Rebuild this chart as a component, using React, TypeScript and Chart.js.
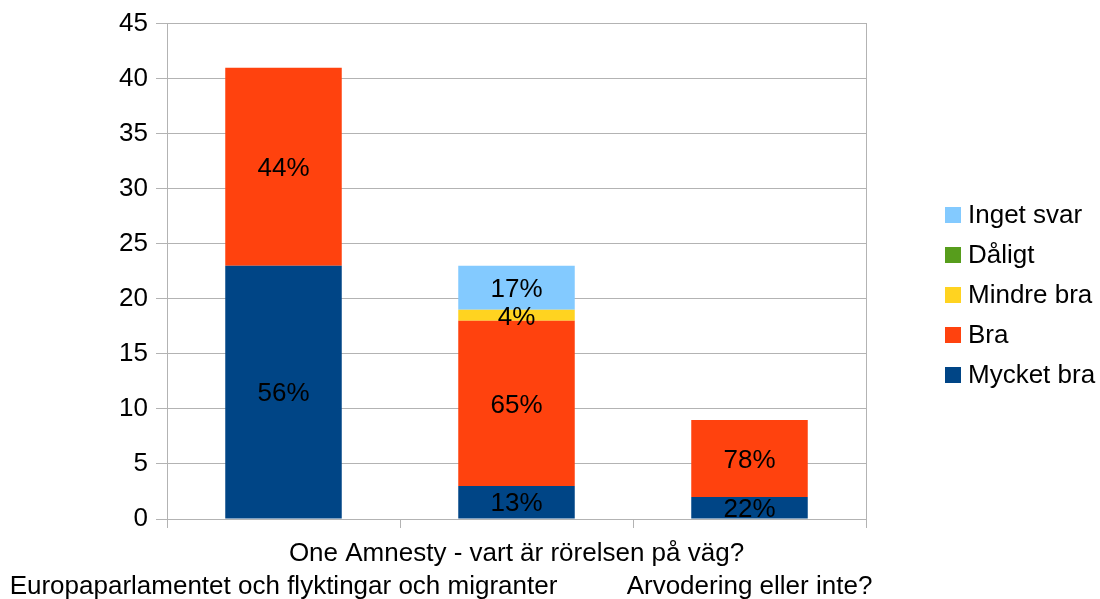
import React, { useEffect, useRef } from 'react';
import { Chart, registerables } from 'chart.js';

Chart.register(...registerables);

const FONT = '"Liberation Sans", Arial, sans-serif';

const categories = [
  'Europaparlamentet och flyktingar och migranter',
  'One Amnesty - vart är rörelsen på väg?',
  'Arvodering eller inte?',
];
const seriesNames = ['Mycket bra', 'Bra', 'Mindre bra', 'Dåligt', 'Inget svar'];
const mycketBra = [23, 3, 2];
const bra = [18, 15, 7];
const mindreBra = [0, 1, 0];
const daligt = [0, 0, 0];
const ingetSvar = [0, 4, 0];
const seriesColors = ['#004586', '#ff420e', '#ffd320', '#579d1c', '#83caff'];
const yMin = 0;
const yMax = 45;
const yStep = 5;

const GRID = '#b3b3b3';

const pctPlugin = {
  id: 'pctLabels',
  afterDatasetsDraw(chart: any) {
    const ctx = chart.ctx;
    const datasets = chart.data.datasets;
    const n = chart.data.labels.length;
    const totals: number[] = [];
    for (let i = 0; i < n; i++) {
      totals.push(datasets.reduce((s: number, d: any) => s + (d.data[i] || 0), 0));
    }
    ctx.save();
    ctx.font = `26px ${FONT}`;
    ctx.fillStyle = '#000';
    ctx.textAlign = 'center';
    ctx.textBaseline = 'middle';
    datasets.forEach((ds: any, di: number) => {
      const meta = chart.getDatasetMeta(di);
      meta.data.forEach((el: any, i: number) => {
        const v = ds.data[i];
        if (!v) return;
        const { x, y, base } = el.getProps(['x', 'y', 'base'], true);
        ctx.fillText(Math.round((v / totals[i]) * 100) + '%', x, (y + base) / 2 + 2);
      });
    });
    ctx.restore();
  },
};

const legendPlugin = {
  id: 'sideLegend',
  afterDraw(chart: any) {
    const ctx = chart.ctx;
    const ds = chart.data.datasets.slice().reverse();
    const boxX = chart.chartArea.right + 79;
    const box = 16;
    const step = 40;
    const y0 = 215;
    ctx.save();
    ctx.font = `26px ${FONT}`;
    ctx.textAlign = 'left';
    ctx.textBaseline = 'middle';
    ds.forEach((d: any, i: number) => {
      const cy = y0 + i * step;
      ctx.fillStyle = d.backgroundColor;
      ctx.fillRect(boxX, cy - box / 2, box, box);
      ctx.fillStyle = '#000';
      ctx.fillText(d.label, boxX + box + 7, cy + 1);
    });
    ctx.restore();
  },
};

export default function App() {
  const ref = useRef<HTMLCanvasElement | null>(null);

  useEffect(() => {
    document.body.style.margin = '0';
    if (!ref.current) return;
    const values = [mycketBra, bra, mindreBra, daligt, ingetSvar];
    const chart = new Chart(ref.current, {
      type: 'bar',
      data: {
        labels: categories,
        datasets: seriesNames.map((name, i) => ({
          label: name,
          data: values[i],
          backgroundColor: seriesColors[i],
          borderWidth: 0,
          categoryPercentage: 1,
          barPercentage: 0.5,
        })),
      },
      options: {
        responsive: false,
        animation: false,
        layout: { padding: { top: 23, right: 234, left: 0, bottom: 0 } },
        plugins: {
          legend: { display: false },
          tooltip: { enabled: false },
        },
        scales: {
          x: {
            stacked: true,
            grid: {
              drawOnChartArea: false,
              drawTicks: true,
              tickLength: 9,
              color: GRID,
              offset: true,
            },
            border: { color: GRID },
            ticks: {
              color: '#000',
              font: { family: FONT, size: 26, lineHeight: 33 / 26 },
              padding: 9,
              maxRotation: 0,
              minRotation: 0,
              autoSkip: false,
              callback: function (this: any, val: any, i: number) {
                const label = this.getLabelForValue(val);
                return i % 2 === 0 ? ['', label] : [label, ''];
              },
            },
            afterFit: (s: any) => {
              s.height = 80;
              s.paddingLeft = 0;
              s.paddingRight = 0;
            },
          },
          y: {
            stacked: true,
            min: yMin,
            max: yMax,
            grid: { color: GRID, tickLength: 11 },
            border: { color: GRID },
            ticks: {
              stepSize: yStep,
              color: '#000',
              padding: 8,
              font: { family: FONT, size: 26 },
            },
            afterFit: (s: any) => {
              s.width = 167;
            },
          },
          y2: {
            position: 'right',
            min: yMin,
            max: yMax,
            grid: { drawOnChartArea: false, drawTicks: false },
            border: { color: GRID },
            ticks: { display: false },
            afterFit: (s: any) => {
              s.width = 0;
            },
          },
        },
      },
      plugins: [pctPlugin, legendPlugin],
    });
    return () => chart.destroy();
  }, []);

  return (
    <div style={{ width: 1100, height: 599 }}>
      <canvas ref={ref} width={1100} height={599} style={{ display: 'block' }} />
    </div>
  );
}
